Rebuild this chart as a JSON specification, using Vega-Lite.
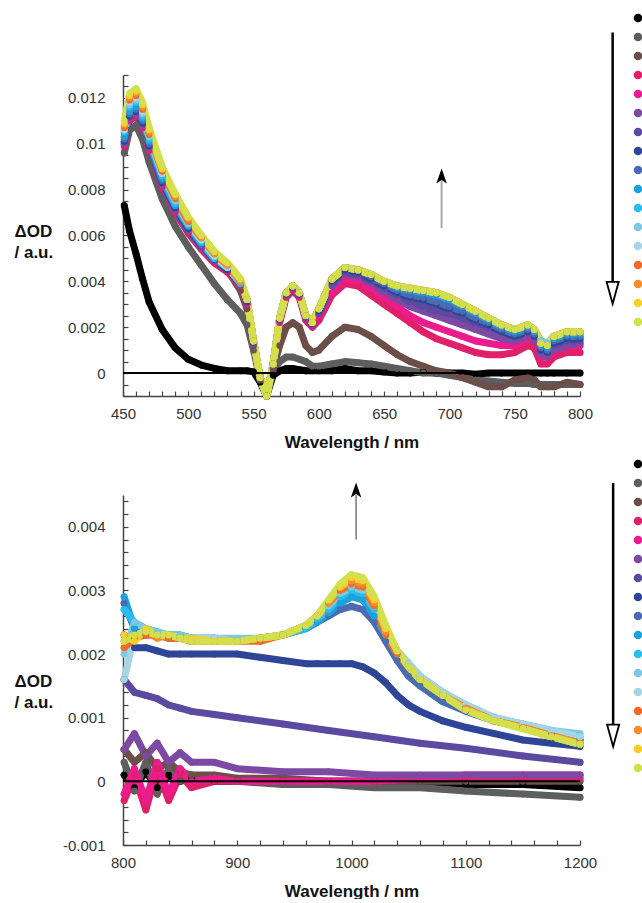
{
"$schema": "https://vega.github.io/schema/vega-lite/v6.json",
"padding": {"left": 14, "top": 13, "right": 0, "bottom": 0},
"background": "white",
"config": {
"view": {"stroke": null},
"font": "Liberation Sans",
"axis": {"grid": false, "domainColor": "#444", "domainWidth": 1.5, "tickColor": "#444", "tickWidth": 1.2, "tickSize": -5, "labelFont": "Liberation Sans", "labelFontSize": 15, "labelColor": "#333", "titleFont": "Liberation Sans", "titleFontSize": 17, "titleFontWeight": "bold", "titleColor": "#111", "labelFlush": false, "labelOverlap": false}
},
"datasets": {
"top": [
{"k":1,"x":451,"y":0.0073},{"k":1,"x":455,"y":0.0062},{"k":1,"x":460,"y":0.0052},{"k":1,"x":465,"y":0.0041},{"k":1,"x":470,"y":0.0031},{"k":1,"x":480,"y":0.0019},{"k":1,"x":490,"y":0.0011},{"k":1,"x":500,"y":0.0006},{"k":1,"x":510,"y":0.00035},{"k":1,"x":520,"y":0.0002},{"k":1,"x":530,"y":0.0001},{"k":1,"x":540,"y":0.0001},{"k":1,"x":545,"y":0.0001},{"k":1,"x":550,"y":0.00005},{"k":1,"x":555,"y":-0.0004},{"k":1,"x":560,"y":-0.001},{"k":1,"x":565,"y":-0.0001},{"k":1,"x":570,"y":0.0001},{"k":1,"x":575,"y":0.0002},{"k":1,"x":580,"y":0.0002},{"k":1,"x":585,"y":0.00015},{"k":1,"x":590,"y":0.0001},{"k":1,"x":595,"y":0.0001},{"k":1,"x":600,"y":0.0001},{"k":1,"x":610,"y":0.0001},{"k":1,"x":620,"y":0.0002},{"k":1,"x":630,"y":0.0001},{"k":1,"x":640,"y":0.0001},{"k":1,"x":650,"y":0.00005},{"k":1,"x":660,"y":0},{"k":1,"x":670,"y":0},{"k":1,"x":680,"y":0.00005},{"k":1,"x":690,"y":0},{"k":1,"x":700,"y":0},{"k":1,"x":710,"y":0},{"k":1,"x":720,"y":-0.00005},{"k":1,"x":730,"y":0},{"k":1,"x":740,"y":0},{"k":1,"x":750,"y":0},{"k":1,"x":760,"y":0},{"k":1,"x":765,"y":0},{"k":1,"x":770,"y":0},{"k":1,"x":775,"y":0},{"k":1,"x":780,"y":0},{"k":1,"x":790,"y":0},{"k":1,"x":800,"y":0},
{"k":2,"x":451,"y":0.0096},{"k":2,"x":455,"y":0.0106},{"k":2,"x":460,"y":0.0108},{"k":2,"x":465,"y":0.0102},{"k":2,"x":470,"y":0.0092},{"k":2,"x":480,"y":0.0076},{"k":2,"x":490,"y":0.0064},{"k":2,"x":500,"y":0.0055},{"k":2,"x":510,"y":0.0047},{"k":2,"x":520,"y":0.0039},{"k":2,"x":530,"y":0.0032},{"k":2,"x":540,"y":0.0026},{"k":2,"x":545,"y":0.0021},{"k":2,"x":550,"y":0.001},{"k":2,"x":555,"y":-0.0003},{"k":2,"x":560,"y":-0.001},{"k":2,"x":565,"y":0.0001},{"k":2,"x":570,"y":0.0005},{"k":2,"x":575,"y":0.0007},{"k":2,"x":580,"y":0.0007},{"k":2,"x":585,"y":0.0006},{"k":2,"x":590,"y":0.0005},{"k":2,"x":595,"y":0.0003},{"k":2,"x":600,"y":0.0003},{"k":2,"x":610,"y":0.0004},{"k":2,"x":620,"y":0.0005},{"k":2,"x":630,"y":0.00045},{"k":2,"x":640,"y":0.0004},{"k":2,"x":650,"y":0.0003},{"k":2,"x":660,"y":0.0002},{"k":2,"x":670,"y":0.0001},{"k":2,"x":680,"y":0},{"k":2,"x":690,"y":0},{"k":2,"x":700,"y":-0.0001},{"k":2,"x":710,"y":-0.0002},{"k":2,"x":720,"y":-0.0003},{"k":2,"x":730,"y":-0.00035},{"k":2,"x":740,"y":-0.0004},{"k":2,"x":750,"y":-0.00045},{"k":2,"x":760,"y":-0.00045},{"k":2,"x":765,"y":-0.0005},{"k":2,"x":770,"y":-0.0005},{"k":2,"x":775,"y":-0.0005},{"k":2,"x":780,"y":-0.0005},{"k":2,"x":790,"y":-0.0005},{"k":2,"x":800,"y":-0.0005},
{"k":3,"x":451,"y":0.0103},{"k":3,"x":455,"y":0.0111},{"k":3,"x":460,"y":0.0113},{"k":3,"x":465,"y":0.0108},{"k":3,"x":470,"y":0.0099},{"k":3,"x":480,"y":0.0086},{"k":3,"x":490,"y":0.0075},{"k":3,"x":500,"y":0.0065},{"k":3,"x":510,"y":0.0057},{"k":3,"x":520,"y":0.005},{"k":3,"x":530,"y":0.0045},{"k":3,"x":540,"y":0.0036},{"k":3,"x":545,"y":0.0028},{"k":3,"x":550,"y":0.0012},{"k":3,"x":555,"y":-0.0003},{"k":3,"x":560,"y":-0.001},{"k":3,"x":565,"y":0.0002},{"k":3,"x":570,"y":0.0012},{"k":3,"x":575,"y":0.002},{"k":3,"x":580,"y":0.0022},{"k":3,"x":585,"y":0.002},{"k":3,"x":590,"y":0.0012},{"k":3,"x":595,"y":0.0009},{"k":3,"x":600,"y":0.001},{"k":3,"x":610,"y":0.0016},{"k":3,"x":620,"y":0.002},{"k":3,"x":630,"y":0.0019},{"k":3,"x":640,"y":0.0016},{"k":3,"x":650,"y":0.0012},{"k":3,"x":660,"y":0.0008},{"k":3,"x":670,"y":0.0005},{"k":3,"x":680,"y":0.0003},{"k":3,"x":690,"y":0.0001},{"k":3,"x":700,"y":0},{"k":3,"x":710,"y":-0.0002},{"k":3,"x":720,"y":-0.0004},{"k":3,"x":730,"y":-0.0006},{"k":3,"x":740,"y":-0.0006},{"k":3,"x":750,"y":-0.0003},{"k":3,"x":760,"y":-0.0002},{"k":3,"x":765,"y":-0.0003},{"k":3,"x":770,"y":-0.0006},{"k":3,"x":775,"y":-0.0006},{"k":3,"x":780,"y":-0.0006},{"k":3,"x":790,"y":-0.0004},{"k":3,"x":800,"y":-0.0005},
{"k":4,"x":451,"y":0.0099},{"k":4,"x":455,"y":0.011},{"k":4,"x":460,"y":0.0112},{"k":4,"x":465,"y":0.0107},{"k":4,"x":470,"y":0.0097},{"k":4,"x":480,"y":0.0081},{"k":4,"x":490,"y":0.007},{"k":4,"x":500,"y":0.0061},{"k":4,"x":510,"y":0.0054},{"k":4,"x":520,"y":0.0048},{"k":4,"x":530,"y":0.0044},{"k":4,"x":540,"y":0.0038},{"k":4,"x":545,"y":0.003},{"k":4,"x":550,"y":0.0013},{"k":4,"x":555,"y":-0.0002},{"k":4,"x":560,"y":-0.001},{"k":4,"x":565,"y":0.0004},{"k":4,"x":570,"y":0.0022},{"k":4,"x":575,"y":0.0033},{"k":4,"x":580,"y":0.0036},{"k":4,"x":585,"y":0.0033},{"k":4,"x":590,"y":0.0023},{"k":4,"x":595,"y":0.002},{"k":4,"x":600,"y":0.0023},{"k":4,"x":610,"y":0.0034},{"k":4,"x":620,"y":0.0039},{"k":4,"x":630,"y":0.0038},{"k":4,"x":640,"y":0.0034},{"k":4,"x":650,"y":0.003},{"k":4,"x":660,"y":0.0026},{"k":4,"x":670,"y":0.0022},{"k":4,"x":680,"y":0.0018},{"k":4,"x":690,"y":0.0015},{"k":4,"x":700,"y":0.0013},{"k":4,"x":710,"y":0.0011},{"k":4,"x":720,"y":0.0009},{"k":4,"x":730,"y":0.0008},{"k":4,"x":740,"y":0.0008},{"k":4,"x":750,"y":0.0009},{"k":4,"x":760,"y":0.0012},{"k":4,"x":765,"y":0.0011},{"k":4,"x":770,"y":0.0004},{"k":4,"x":775,"y":0.0004},{"k":4,"x":780,"y":0.0007},{"k":4,"x":790,"y":0.0009},{"k":4,"x":800,"y":0.0009},
{"k":5,"x":451,"y":0.01},{"k":5,"x":455,"y":0.0111},{"k":5,"x":460,"y":0.0113},{"k":5,"x":465,"y":0.0108},{"k":5,"x":470,"y":0.0098},{"k":5,"x":480,"y":0.0082},{"k":5,"x":490,"y":0.0071},{"k":5,"x":500,"y":0.0062},{"k":5,"x":510,"y":0.0055},{"k":5,"x":520,"y":0.0049},{"k":5,"x":530,"y":0.0045},{"k":5,"x":540,"y":0.0039},{"k":5,"x":545,"y":0.003},{"k":5,"x":550,"y":0.0013},{"k":5,"x":555,"y":-0.0002},{"k":5,"x":560,"y":-0.001},{"k":5,"x":565,"y":0.0004},{"k":5,"x":570,"y":0.0023},{"k":5,"x":575,"y":0.0034},{"k":5,"x":580,"y":0.0037},{"k":5,"x":585,"y":0.0034},{"k":5,"x":590,"y":0.0024},{"k":5,"x":595,"y":0.0021},{"k":5,"x":600,"y":0.0025},{"k":5,"x":610,"y":0.0035},{"k":5,"x":620,"y":0.0041},{"k":5,"x":630,"y":0.004},{"k":5,"x":640,"y":0.0037},{"k":5,"x":650,"y":0.0033},{"k":5,"x":660,"y":0.0029},{"k":5,"x":670,"y":0.0025},{"k":5,"x":680,"y":0.0022},{"k":5,"x":690,"y":0.002},{"k":5,"x":700,"y":0.0018},{"k":5,"x":710,"y":0.0016},{"k":5,"x":720,"y":0.0014},{"k":5,"x":730,"y":0.0013},{"k":5,"x":740,"y":0.0012},{"k":5,"x":750,"y":0.0012},{"k":5,"x":760,"y":0.0015},{"k":5,"x":765,"y":0.0014},{"k":5,"x":770,"y":0.0007},{"k":5,"x":775,"y":0.0007},{"k":5,"x":780,"y":0.001},{"k":5,"x":790,"y":0.0012},{"k":5,"x":800,"y":0.0012},
{"k":6,"x":451,"y":0.01},{"k":6,"x":455,"y":0.0111},{"k":6,"x":460,"y":0.0113},{"k":6,"x":465,"y":0.0108},{"k":6,"x":470,"y":0.0098},{"k":6,"x":480,"y":0.0082},{"k":6,"x":490,"y":0.0071},{"k":6,"x":500,"y":0.0062},{"k":6,"x":510,"y":0.0055},{"k":6,"x":520,"y":0.0049},{"k":6,"x":530,"y":0.0045},{"k":6,"x":540,"y":0.0039},{"k":6,"x":545,"y":0.0031},{"k":6,"x":550,"y":0.0013},{"k":6,"x":555,"y":-0.0002},{"k":6,"x":560,"y":-0.001},{"k":6,"x":565,"y":0.0004},{"k":6,"x":570,"y":0.0023},{"k":6,"x":575,"y":0.0034},{"k":6,"x":580,"y":0.0037},{"k":6,"x":585,"y":0.0034},{"k":6,"x":590,"y":0.0024},{"k":6,"x":595,"y":0.0021},{"k":6,"x":600,"y":0.0026},{"k":6,"x":610,"y":0.0038},{"k":6,"x":620,"y":0.0043},{"k":6,"x":630,"y":0.0042},{"k":6,"x":640,"y":0.0039},{"k":6,"x":650,"y":0.0035},{"k":6,"x":660,"y":0.0032},{"k":6,"x":670,"y":0.0029},{"k":6,"x":680,"y":0.0027},{"k":6,"x":690,"y":0.0025},{"k":6,"x":700,"y":0.0023},{"k":6,"x":710,"y":0.0021},{"k":6,"x":720,"y":0.0019},{"k":6,"x":730,"y":0.0017},{"k":6,"x":740,"y":0.0015},{"k":6,"x":750,"y":0.0014},{"k":6,"x":760,"y":0.0016},{"k":6,"x":765,"y":0.0014},{"k":6,"x":770,"y":0.0008},{"k":6,"x":775,"y":0.0007},{"k":6,"x":780,"y":0.001},{"k":6,"x":790,"y":0.0012},{"k":6,"x":800,"y":0.0013},
{"k":7,"x":451,"y":0.0101},{"k":7,"x":455,"y":0.0112},{"k":7,"x":460,"y":0.0114},{"k":7,"x":465,"y":0.0109},{"k":7,"x":470,"y":0.0099},{"k":7,"x":480,"y":0.0083},{"k":7,"x":490,"y":0.0072},{"k":7,"x":500,"y":0.0063},{"k":7,"x":510,"y":0.0055},{"k":7,"x":520,"y":0.0049},{"k":7,"x":530,"y":0.0045},{"k":7,"x":540,"y":0.0039},{"k":7,"x":545,"y":0.0031},{"k":7,"x":550,"y":0.0013},{"k":7,"x":555,"y":-0.0002},{"k":7,"x":560,"y":-0.001},{"k":7,"x":565,"y":0.0004},{"k":7,"x":570,"y":0.0023},{"k":7,"x":575,"y":0.0034},{"k":7,"x":580,"y":0.0037},{"k":7,"x":585,"y":0.0034},{"k":7,"x":590,"y":0.0024},{"k":7,"x":595,"y":0.0021},{"k":7,"x":600,"y":0.0026},{"k":7,"x":610,"y":0.0039},{"k":7,"x":620,"y":0.0044},{"k":7,"x":630,"y":0.0043},{"k":7,"x":640,"y":0.004},{"k":7,"x":650,"y":0.0037},{"k":7,"x":660,"y":0.0034},{"k":7,"x":670,"y":0.0031},{"k":7,"x":680,"y":0.0029},{"k":7,"x":690,"y":0.0027},{"k":7,"x":700,"y":0.0026},{"k":7,"x":710,"y":0.0024},{"k":7,"x":720,"y":0.0022},{"k":7,"x":730,"y":0.002},{"k":7,"x":740,"y":0.0018},{"k":7,"x":750,"y":0.0016},{"k":7,"x":760,"y":0.0018},{"k":7,"x":765,"y":0.0016},{"k":7,"x":770,"y":0.001},{"k":7,"x":775,"y":0.0009},{"k":7,"x":780,"y":0.0012},{"k":7,"x":790,"y":0.0014},{"k":7,"x":800,"y":0.0014},
{"k":8,"x":451,"y":0.0101},{"k":8,"x":455,"y":0.0112},{"k":8,"x":460,"y":0.0114},{"k":8,"x":465,"y":0.0109},{"k":8,"x":470,"y":0.0099},{"k":8,"x":480,"y":0.0083},{"k":8,"x":490,"y":0.0072},{"k":8,"x":500,"y":0.0063},{"k":8,"x":510,"y":0.0056},{"k":8,"x":520,"y":0.005},{"k":8,"x":530,"y":0.0045},{"k":8,"x":540,"y":0.0039},{"k":8,"x":545,"y":0.0031},{"k":8,"x":550,"y":0.0014},{"k":8,"x":555,"y":-0.0002},{"k":8,"x":560,"y":-0.001},{"k":8,"x":565,"y":0.0004},{"k":8,"x":570,"y":0.0024},{"k":8,"x":575,"y":0.0035},{"k":8,"x":580,"y":0.0038},{"k":8,"x":585,"y":0.0035},{"k":8,"x":590,"y":0.0025},{"k":8,"x":595,"y":0.0022},{"k":8,"x":600,"y":0.0027},{"k":8,"x":610,"y":0.004},{"k":8,"x":620,"y":0.0045},{"k":8,"x":630,"y":0.0044},{"k":8,"x":640,"y":0.0041},{"k":8,"x":650,"y":0.0038},{"k":8,"x":660,"y":0.0035},{"k":8,"x":670,"y":0.0033},{"k":8,"x":680,"y":0.0032},{"k":8,"x":690,"y":0.003},{"k":8,"x":700,"y":0.0028},{"k":8,"x":710,"y":0.0026},{"k":8,"x":720,"y":0.0023},{"k":8,"x":730,"y":0.0021},{"k":8,"x":740,"y":0.0018},{"k":8,"x":750,"y":0.0016},{"k":8,"x":760,"y":0.0018},{"k":8,"x":765,"y":0.0016},{"k":8,"x":770,"y":0.001},{"k":8,"x":775,"y":0.0009},{"k":8,"x":780,"y":0.0013},{"k":8,"x":790,"y":0.0015},{"k":8,"x":800,"y":0.0015},
{"k":9,"x":451,"y":0.0102},{"k":9,"x":455,"y":0.0113},{"k":9,"x":460,"y":0.0115},{"k":9,"x":465,"y":0.011},{"k":9,"x":470,"y":0.01},{"k":9,"x":480,"y":0.0084},{"k":9,"x":490,"y":0.0073},{"k":9,"x":500,"y":0.0064},{"k":9,"x":510,"y":0.0056},{"k":9,"x":520,"y":0.005},{"k":9,"x":530,"y":0.0046},{"k":9,"x":540,"y":0.0039},{"k":9,"x":545,"y":0.0032},{"k":9,"x":550,"y":0.0014},{"k":9,"x":555,"y":-0.0002},{"k":9,"x":560,"y":-0.001},{"k":9,"x":565,"y":0.0004},{"k":9,"x":570,"y":0.0024},{"k":9,"x":575,"y":0.0035},{"k":9,"x":580,"y":0.0038},{"k":9,"x":585,"y":0.0035},{"k":9,"x":590,"y":0.0025},{"k":9,"x":595,"y":0.0022},{"k":9,"x":600,"y":0.0028},{"k":9,"x":610,"y":0.0041},{"k":9,"x":620,"y":0.0046},{"k":9,"x":630,"y":0.0045},{"k":9,"x":640,"y":0.0042},{"k":9,"x":650,"y":0.0039},{"k":9,"x":660,"y":0.0036},{"k":9,"x":670,"y":0.0034},{"k":9,"x":680,"y":0.0033},{"k":9,"x":690,"y":0.0031},{"k":9,"x":700,"y":0.0029},{"k":9,"x":710,"y":0.0027},{"k":9,"x":720,"y":0.0024},{"k":9,"x":730,"y":0.0022},{"k":9,"x":740,"y":0.0019},{"k":9,"x":750,"y":0.0017},{"k":9,"x":760,"y":0.0019},{"k":9,"x":765,"y":0.0017},{"k":9,"x":770,"y":0.0011},{"k":9,"x":775,"y":0.001},{"k":9,"x":780,"y":0.0014},{"k":9,"x":790,"y":0.0016},{"k":9,"x":800,"y":0.0016},
{"k":10,"x":451,"y":0.0103},{"k":10,"x":455,"y":0.0114},{"k":10,"x":460,"y":0.0116},{"k":10,"x":465,"y":0.0111},{"k":10,"x":470,"y":0.0101},{"k":10,"x":480,"y":0.0085},{"k":10,"x":490,"y":0.0073},{"k":10,"x":500,"y":0.0064},{"k":10,"x":510,"y":0.0057},{"k":10,"x":520,"y":0.005},{"k":10,"x":530,"y":0.0046},{"k":10,"x":540,"y":0.0039},{"k":10,"x":545,"y":0.0032},{"k":10,"x":550,"y":0.0014},{"k":10,"x":555,"y":-0.0002},{"k":10,"x":560,"y":-0.001},{"k":10,"x":565,"y":0.0004},{"k":10,"x":570,"y":0.0024},{"k":10,"x":575,"y":0.0035},{"k":10,"x":580,"y":0.0038},{"k":10,"x":585,"y":0.0035},{"k":10,"x":590,"y":0.0025},{"k":10,"x":595,"y":0.0022},{"k":10,"x":600,"y":0.0028},{"k":10,"x":610,"y":0.0041},{"k":10,"x":620,"y":0.0046},{"k":10,"x":630,"y":0.0045},{"k":10,"x":640,"y":0.0043},{"k":10,"x":650,"y":0.004},{"k":10,"x":660,"y":0.0037},{"k":10,"x":670,"y":0.0036},{"k":10,"x":680,"y":0.0035},{"k":10,"x":690,"y":0.0034},{"k":10,"x":700,"y":0.0032},{"k":10,"x":710,"y":0.0029},{"k":10,"x":720,"y":0.0026},{"k":10,"x":730,"y":0.0023},{"k":10,"x":740,"y":0.002},{"k":10,"x":750,"y":0.0018},{"k":10,"x":760,"y":0.002},{"k":10,"x":765,"y":0.0018},{"k":10,"x":770,"y":0.0012},{"k":10,"x":775,"y":0.0011},{"k":10,"x":780,"y":0.0015},{"k":10,"x":790,"y":0.0017},{"k":10,"x":800,"y":0.0017},
{"k":11,"x":451,"y":0.0105},{"k":11,"x":455,"y":0.0116},{"k":11,"x":460,"y":0.0118},{"k":11,"x":465,"y":0.0112},{"k":11,"x":470,"y":0.0102},{"k":11,"x":480,"y":0.0086},{"k":11,"x":490,"y":0.0074},{"k":11,"x":500,"y":0.0065},{"k":11,"x":510,"y":0.0057},{"k":11,"x":520,"y":0.005},{"k":11,"x":530,"y":0.0046},{"k":11,"x":540,"y":0.0039},{"k":11,"x":545,"y":0.0032},{"k":11,"x":550,"y":0.0014},{"k":11,"x":555,"y":-0.0002},{"k":11,"x":560,"y":-0.001},{"k":11,"x":565,"y":0.0004},{"k":11,"x":570,"y":0.0024},{"k":11,"x":575,"y":0.0035},{"k":11,"x":580,"y":0.0038},{"k":11,"x":585,"y":0.0035},{"k":11,"x":590,"y":0.0025},{"k":11,"x":595,"y":0.0022},{"k":11,"x":600,"y":0.0028},{"k":11,"x":610,"y":0.0041},{"k":11,"x":620,"y":0.0046},{"k":11,"x":630,"y":0.0045},{"k":11,"x":640,"y":0.0043},{"k":11,"x":650,"y":0.004},{"k":11,"x":660,"y":0.0038},{"k":11,"x":670,"y":0.0037},{"k":11,"x":680,"y":0.0036},{"k":11,"x":690,"y":0.0035},{"k":11,"x":700,"y":0.0033},{"k":11,"x":710,"y":0.003},{"k":11,"x":720,"y":0.0027},{"k":11,"x":730,"y":0.0024},{"k":11,"x":740,"y":0.0021},{"k":11,"x":750,"y":0.0019},{"k":11,"x":760,"y":0.0021},{"k":11,"x":765,"y":0.0019},{"k":11,"x":770,"y":0.0014},{"k":11,"x":775,"y":0.0013},{"k":11,"x":780,"y":0.0016},{"k":11,"x":790,"y":0.0018},{"k":11,"x":800,"y":0.0018},
{"k":12,"x":451,"y":0.0106},{"k":12,"x":455,"y":0.0117},{"k":12,"x":460,"y":0.0119},{"k":12,"x":465,"y":0.0113},{"k":12,"x":470,"y":0.0103},{"k":12,"x":480,"y":0.0087},{"k":12,"x":490,"y":0.0075},{"k":12,"x":500,"y":0.0065},{"k":12,"x":510,"y":0.0058},{"k":12,"x":520,"y":0.0051},{"k":12,"x":530,"y":0.0046},{"k":12,"x":540,"y":0.004},{"k":12,"x":545,"y":0.0032},{"k":12,"x":550,"y":0.0014},{"k":12,"x":555,"y":-0.0002},{"k":12,"x":560,"y":-0.001},{"k":12,"x":565,"y":0.0004},{"k":12,"x":570,"y":0.0024},{"k":12,"x":575,"y":0.0035},{"k":12,"x":580,"y":0.0038},{"k":12,"x":585,"y":0.0035},{"k":12,"x":590,"y":0.0025},{"k":12,"x":595,"y":0.0022},{"k":12,"x":600,"y":0.0028},{"k":12,"x":610,"y":0.0041},{"k":12,"x":620,"y":0.0046},{"k":12,"x":630,"y":0.0045},{"k":12,"x":640,"y":0.0043},{"k":12,"x":650,"y":0.004},{"k":12,"x":660,"y":0.0038},{"k":12,"x":670,"y":0.0037},{"k":12,"x":680,"y":0.0036},{"k":12,"x":690,"y":0.0035},{"k":12,"x":700,"y":0.0033},{"k":12,"x":710,"y":0.003},{"k":12,"x":720,"y":0.0027},{"k":12,"x":730,"y":0.0024},{"k":12,"x":740,"y":0.0021},{"k":12,"x":750,"y":0.0019},{"k":12,"x":760,"y":0.0021},{"k":12,"x":765,"y":0.0019},{"k":12,"x":770,"y":0.0014},{"k":12,"x":775,"y":0.0013},{"k":12,"x":780,"y":0.0016},{"k":12,"x":790,"y":0.0018},{"k":12,"x":800,"y":0.0018},
{"k":13,"x":451,"y":0.0106},{"k":13,"x":455,"y":0.0118},{"k":13,"x":460,"y":0.012},{"k":13,"x":465,"y":0.0114},{"k":13,"x":470,"y":0.0104},{"k":13,"x":480,"y":0.0087},{"k":13,"x":490,"y":0.0076},{"k":13,"x":500,"y":0.0066},{"k":13,"x":510,"y":0.0058},{"k":13,"x":520,"y":0.0051},{"k":13,"x":530,"y":0.0046},{"k":13,"x":540,"y":0.004},{"k":13,"x":545,"y":0.0032},{"k":13,"x":550,"y":0.0014},{"k":13,"x":555,"y":-0.0002},{"k":13,"x":560,"y":-0.001},{"k":13,"x":565,"y":0.0004},{"k":13,"x":570,"y":0.0024},{"k":13,"x":575,"y":0.0035},{"k":13,"x":580,"y":0.0038},{"k":13,"x":585,"y":0.0035},{"k":13,"x":590,"y":0.0025},{"k":13,"x":595,"y":0.0022},{"k":13,"x":600,"y":0.0028},{"k":13,"x":610,"y":0.0041},{"k":13,"x":620,"y":0.0046},{"k":13,"x":630,"y":0.0045},{"k":13,"x":640,"y":0.0043},{"k":13,"x":650,"y":0.004},{"k":13,"x":660,"y":0.0038},{"k":13,"x":670,"y":0.0037},{"k":13,"x":680,"y":0.0036},{"k":13,"x":690,"y":0.0035},{"k":13,"x":700,"y":0.0033},{"k":13,"x":710,"y":0.003},{"k":13,"x":720,"y":0.0027},{"k":13,"x":730,"y":0.0024},{"k":13,"x":740,"y":0.0021},{"k":13,"x":750,"y":0.0019},{"k":13,"x":760,"y":0.0021},{"k":13,"x":765,"y":0.0019},{"k":13,"x":770,"y":0.0013},{"k":13,"x":775,"y":0.0012},{"k":13,"x":780,"y":0.0016},{"k":13,"x":790,"y":0.0018},{"k":13,"x":800,"y":0.0018},
{"k":14,"x":451,"y":0.0107},{"k":14,"x":455,"y":0.0119},{"k":14,"x":460,"y":0.0121},{"k":14,"x":465,"y":0.0115},{"k":14,"x":470,"y":0.0104},{"k":14,"x":480,"y":0.0088},{"k":14,"x":490,"y":0.0076},{"k":14,"x":500,"y":0.0066},{"k":14,"x":510,"y":0.0059},{"k":14,"x":520,"y":0.0052},{"k":14,"x":530,"y":0.0047},{"k":14,"x":540,"y":0.004},{"k":14,"x":545,"y":0.0032},{"k":14,"x":550,"y":0.0014},{"k":14,"x":555,"y":-0.0002},{"k":14,"x":560,"y":-0.001},{"k":14,"x":565,"y":0.0004},{"k":14,"x":570,"y":0.0024},{"k":14,"x":575,"y":0.0035},{"k":14,"x":580,"y":0.0038},{"k":14,"x":585,"y":0.0035},{"k":14,"x":590,"y":0.0025},{"k":14,"x":595,"y":0.0022},{"k":14,"x":600,"y":0.0028},{"k":14,"x":610,"y":0.0041},{"k":14,"x":620,"y":0.0046},{"k":14,"x":630,"y":0.0045},{"k":14,"x":640,"y":0.0043},{"k":14,"x":650,"y":0.004},{"k":14,"x":660,"y":0.0038},{"k":14,"x":670,"y":0.0037},{"k":14,"x":680,"y":0.0036},{"k":14,"x":690,"y":0.0035},{"k":14,"x":700,"y":0.0033},{"k":14,"x":710,"y":0.003},{"k":14,"x":720,"y":0.0027},{"k":14,"x":730,"y":0.0024},{"k":14,"x":740,"y":0.0021},{"k":14,"x":750,"y":0.0019},{"k":14,"x":760,"y":0.0021},{"k":14,"x":765,"y":0.0019},{"k":14,"x":770,"y":0.0013},{"k":14,"x":775,"y":0.0012},{"k":14,"x":780,"y":0.0016},{"k":14,"x":790,"y":0.0018},{"k":14,"x":800,"y":0.0018},
{"k":15,"x":451,"y":0.0108},{"k":15,"x":455,"y":0.012},{"k":15,"x":460,"y":0.0122},{"k":15,"x":465,"y":0.0116},{"k":15,"x":470,"y":0.0105},{"k":15,"x":480,"y":0.0089},{"k":15,"x":490,"y":0.0077},{"k":15,"x":500,"y":0.0067},{"k":15,"x":510,"y":0.0059},{"k":15,"x":520,"y":0.0052},{"k":15,"x":530,"y":0.0047},{"k":15,"x":540,"y":0.004},{"k":15,"x":545,"y":0.0032},{"k":15,"x":550,"y":0.0014},{"k":15,"x":555,"y":-0.0002},{"k":15,"x":560,"y":-0.001},{"k":15,"x":565,"y":0.0004},{"k":15,"x":570,"y":0.0024},{"k":15,"x":575,"y":0.0035},{"k":15,"x":580,"y":0.0038},{"k":15,"x":585,"y":0.0035},{"k":15,"x":590,"y":0.0025},{"k":15,"x":595,"y":0.0022},{"k":15,"x":600,"y":0.0028},{"k":15,"x":610,"y":0.0041},{"k":15,"x":620,"y":0.0046},{"k":15,"x":630,"y":0.0045},{"k":15,"x":640,"y":0.0043},{"k":15,"x":650,"y":0.004},{"k":15,"x":660,"y":0.0038},{"k":15,"x":670,"y":0.0037},{"k":15,"x":680,"y":0.0036},{"k":15,"x":690,"y":0.0035},{"k":15,"x":700,"y":0.0033},{"k":15,"x":710,"y":0.003},{"k":15,"x":720,"y":0.0027},{"k":15,"x":730,"y":0.0024},{"k":15,"x":740,"y":0.0021},{"k":15,"x":750,"y":0.0019},{"k":15,"x":760,"y":0.0021},{"k":15,"x":765,"y":0.0019},{"k":15,"x":770,"y":0.0013},{"k":15,"x":775,"y":0.0012},{"k":15,"x":780,"y":0.0016},{"k":15,"x":790,"y":0.0018},{"k":15,"x":800,"y":0.0018},
{"k":16,"x":451,"y":0.0109},{"k":16,"x":455,"y":0.0121},{"k":16,"x":460,"y":0.0123},{"k":16,"x":465,"y":0.0117},{"k":16,"x":470,"y":0.0106},{"k":16,"x":480,"y":0.0089},{"k":16,"x":490,"y":0.0078},{"k":16,"x":500,"y":0.0068},{"k":16,"x":510,"y":0.006},{"k":16,"x":520,"y":0.0053},{"k":16,"x":530,"y":0.0048},{"k":16,"x":540,"y":0.0041},{"k":16,"x":545,"y":0.0032},{"k":16,"x":550,"y":0.0014},{"k":16,"x":555,"y":-0.0002},{"k":16,"x":560,"y":-0.001},{"k":16,"x":565,"y":0.0004},{"k":16,"x":570,"y":0.0024},{"k":16,"x":575,"y":0.0035},{"k":16,"x":580,"y":0.0038},{"k":16,"x":585,"y":0.0035},{"k":16,"x":590,"y":0.0025},{"k":16,"x":595,"y":0.0022},{"k":16,"x":600,"y":0.0028},{"k":16,"x":610,"y":0.0041},{"k":16,"x":620,"y":0.0046},{"k":16,"x":630,"y":0.0045},{"k":16,"x":640,"y":0.0043},{"k":16,"x":650,"y":0.004},{"k":16,"x":660,"y":0.0038},{"k":16,"x":670,"y":0.0037},{"k":16,"x":680,"y":0.0036},{"k":16,"x":690,"y":0.0035},{"k":16,"x":700,"y":0.0033},{"k":16,"x":710,"y":0.003},{"k":16,"x":720,"y":0.0027},{"k":16,"x":730,"y":0.0024},{"k":16,"x":740,"y":0.0021},{"k":16,"x":750,"y":0.0019},{"k":16,"x":760,"y":0.0021},{"k":16,"x":765,"y":0.0019},{"k":16,"x":770,"y":0.0013},{"k":16,"x":775,"y":0.0012},{"k":16,"x":780,"y":0.0016},{"k":16,"x":790,"y":0.0018},{"k":16,"x":800,"y":0.0018},
{"k":17,"x":451,"y":0.011},{"k":17,"x":455,"y":0.0122},{"k":17,"x":460,"y":0.0124},{"k":17,"x":465,"y":0.0118},{"k":17,"x":470,"y":0.0107},{"k":17,"x":480,"y":0.009},{"k":17,"x":490,"y":0.0078},{"k":17,"x":500,"y":0.0068},{"k":17,"x":510,"y":0.006},{"k":17,"x":520,"y":0.0053},{"k":17,"x":530,"y":0.0048},{"k":17,"x":540,"y":0.0041},{"k":17,"x":545,"y":0.0032},{"k":17,"x":550,"y":0.0014},{"k":17,"x":555,"y":-0.0002},{"k":17,"x":560,"y":-0.001},{"k":17,"x":565,"y":0.0004},{"k":17,"x":570,"y":0.0024},{"k":17,"x":575,"y":0.0035},{"k":17,"x":580,"y":0.0038},{"k":17,"x":585,"y":0.0035},{"k":17,"x":590,"y":0.0025},{"k":17,"x":595,"y":0.0022},{"k":17,"x":600,"y":0.0028},{"k":17,"x":610,"y":0.0041},{"k":17,"x":620,"y":0.0046},{"k":17,"x":630,"y":0.0045},{"k":17,"x":640,"y":0.0043},{"k":17,"x":650,"y":0.004},{"k":17,"x":660,"y":0.0038},{"k":17,"x":670,"y":0.0037},{"k":17,"x":680,"y":0.0036},{"k":17,"x":690,"y":0.0035},{"k":17,"x":700,"y":0.0033},{"k":17,"x":710,"y":0.003},{"k":17,"x":720,"y":0.0027},{"k":17,"x":730,"y":0.0024},{"k":17,"x":740,"y":0.0021},{"k":17,"x":750,"y":0.0019},{"k":17,"x":760,"y":0.0021},{"k":17,"x":765,"y":0.0019},{"k":17,"x":770,"y":0.0013},{"k":17,"x":775,"y":0.0012},{"k":17,"x":780,"y":0.0016},{"k":17,"x":790,"y":0.0018},{"k":17,"x":800,"y":0.0018}
],
"bot": [
{"k":1,"x":801,"y":0.0001},{"k":1,"x":810,"y":-0.0001},{"k":1,"x":820,"y":0.00015},{"k":1,"x":830,"y":-0.0001},{"k":1,"x":840,"y":0.0001},{"k":1,"x":850,"y":0},{"k":1,"x":860,"y":0.00005},{"k":1,"x":880,"y":0},{"k":1,"x":900,"y":0},{"k":1,"x":940,"y":0},{"k":1,"x":980,"y":0},{"k":1,"x":1020,"y":0},{"k":1,"x":1060,"y":0},{"k":1,"x":1100,"y":-0.00005},{"k":1,"x":1150,"y":-0.00005},{"k":1,"x":1200,"y":-0.0001},
{"k":2,"x":801,"y":0.0003},{"k":2,"x":810,"y":-0.00015},{"k":2,"x":820,"y":0.0003},{"k":2,"x":830,"y":-0.0002},{"k":2,"x":840,"y":0.0002},{"k":2,"x":850,"y":0},{"k":2,"x":860,"y":0.0001},{"k":2,"x":880,"y":0.00005},{"k":2,"x":900,"y":0},{"k":2,"x":940,"y":-0.00005},{"k":2,"x":980,"y":-0.00005},{"k":2,"x":1020,"y":-0.0001},{"k":2,"x":1060,"y":-0.0001},{"k":2,"x":1100,"y":-0.00015},{"k":2,"x":1150,"y":-0.0002},{"k":2,"x":1200,"y":-0.00025},
{"k":3,"x":801,"y":0.0005},{"k":3,"x":810,"y":0.0003},{"k":3,"x":820,"y":0.00045},{"k":3,"x":830,"y":0.0002},{"k":3,"x":840,"y":0.0003},{"k":3,"x":850,"y":0.00015},{"k":3,"x":860,"y":0.0001},{"k":3,"x":880,"y":0.0001},{"k":3,"x":900,"y":0.00005},{"k":3,"x":940,"y":0.00005},{"k":3,"x":980,"y":0},{"k":3,"x":1020,"y":0},{"k":3,"x":1060,"y":0},{"k":3,"x":1100,"y":0},{"k":3,"x":1150,"y":0},{"k":3,"x":1200,"y":0},
{"k":4,"x":801,"y":-0.0003},{"k":4,"x":810,"y":0.0001},{"k":4,"x":820,"y":-0.00045},{"k":4,"x":830,"y":0.0002},{"k":4,"x":840,"y":-0.0003},{"k":4,"x":850,"y":0.0001},{"k":4,"x":860,"y":-0.0001},{"k":4,"x":880,"y":0},{"k":4,"x":900,"y":0},{"k":4,"x":940,"y":0},{"k":4,"x":980,"y":0},{"k":4,"x":1020,"y":0},{"k":4,"x":1060,"y":0.00005},{"k":4,"x":1100,"y":0.00005},{"k":4,"x":1150,"y":0.00005},{"k":4,"x":1200,"y":0.00005},
{"k":5,"x":801,"y":-0.0002},{"k":5,"x":810,"y":0.0002},{"k":5,"x":820,"y":-0.0003},{"k":5,"x":830,"y":0.0003},{"k":5,"x":840,"y":-0.0002},{"k":5,"x":850,"y":0.0002},{"k":5,"x":860,"y":0},{"k":5,"x":880,"y":0.00005},{"k":5,"x":900,"y":0},{"k":5,"x":940,"y":0},{"k":5,"x":980,"y":0},{"k":5,"x":1020,"y":0},{"k":5,"x":1060,"y":0.00005},{"k":5,"x":1100,"y":0.0001},{"k":5,"x":1150,"y":0.0001},{"k":5,"x":1200,"y":0.0001},
{"k":6,"x":801,"y":0.0005},{"k":6,"x":810,"y":0.00075},{"k":6,"x":820,"y":0.0004},{"k":6,"x":830,"y":0.0006},{"k":6,"x":840,"y":0.0003},{"k":6,"x":850,"y":0.00045},{"k":6,"x":860,"y":0.0003},{"k":6,"x":880,"y":0.0003},{"k":6,"x":900,"y":0.0002},{"k":6,"x":940,"y":0.00015},{"k":6,"x":980,"y":0.00015},{"k":6,"x":1020,"y":0.0001},{"k":6,"x":1060,"y":0.0001},{"k":6,"x":1100,"y":0.0001},{"k":6,"x":1150,"y":0.0001},{"k":6,"x":1200,"y":0.0001},
{"k":7,"x":801,"y":0.0016},{"k":7,"x":810,"y":0.0014},{"k":7,"x":820,"y":0.00135},{"k":7,"x":830,"y":0.0013},{"k":7,"x":840,"y":0.0012},{"k":7,"x":850,"y":0.00115},{"k":7,"x":860,"y":0.0011},{"k":7,"x":880,"y":0.00105},{"k":7,"x":900,"y":0.001},{"k":7,"x":940,"y":0.0009},{"k":7,"x":980,"y":0.0008},{"k":7,"x":1020,"y":0.0007},{"k":7,"x":1060,"y":0.0006},{"k":7,"x":1100,"y":0.00052},{"k":7,"x":1150,"y":0.0004},{"k":7,"x":1200,"y":0.0003},
{"k":8,"x":801,"y":0.0023},{"k":8,"x":810,"y":0.0021},{"k":8,"x":820,"y":0.0021},{"k":8,"x":830,"y":0.00205},{"k":8,"x":840,"y":0.002},{"k":8,"x":850,"y":0.002},{"k":8,"x":860,"y":0.002},{"k":8,"x":880,"y":0.002},{"k":8,"x":900,"y":0.002},{"k":8,"x":920,"y":0.00195},{"k":8,"x":940,"y":0.0019},{"k":8,"x":960,"y":0.00185},{"k":8,"x":970,"y":0.00185},{"k":8,"x":980,"y":0.00185},{"k":8,"x":990,"y":0.00185},{"k":8,"x":1000,"y":0.00185},{"k":8,"x":1010,"y":0.0018},{"k":8,"x":1020,"y":0.0017},{"k":8,"x":1030,"y":0.00155},{"k":8,"x":1040,"y":0.00135},{"k":8,"x":1050,"y":0.0012},{"k":8,"x":1060,"y":0.0011},{"k":8,"x":1080,"y":0.00095},{"k":8,"x":1100,"y":0.00085},{"k":8,"x":1125,"y":0.00075},{"k":8,"x":1150,"y":0.00065},{"k":8,"x":1175,"y":0.0006},{"k":8,"x":1200,"y":0.00055},
{"k":9,"x":801,"y":0.0028},{"k":9,"x":810,"y":0.0024},{"k":9,"x":820,"y":0.0023},{"k":9,"x":830,"y":0.0023},{"k":9,"x":840,"y":0.00225},{"k":9,"x":850,"y":0.00225},{"k":9,"x":860,"y":0.00225},{"k":9,"x":880,"y":0.00225},{"k":9,"x":900,"y":0.0022},{"k":9,"x":920,"y":0.00225},{"k":9,"x":940,"y":0.0023},{"k":9,"x":960,"y":0.0024},{"k":9,"x":970,"y":0.0025},{"k":9,"x":980,"y":0.0026},{"k":9,"x":990,"y":0.0027},{"k":9,"x":1000,"y":0.00275},{"k":9,"x":1010,"y":0.0027},{"k":9,"x":1020,"y":0.0025},{"k":9,"x":1030,"y":0.0022},{"k":9,"x":1040,"y":0.0019},{"k":9,"x":1050,"y":0.00165},{"k":9,"x":1060,"y":0.0015},{"k":9,"x":1080,"y":0.00125},{"k":9,"x":1100,"y":0.0011},{"k":9,"x":1125,"y":0.00095},{"k":9,"x":1150,"y":0.00085},{"k":9,"x":1175,"y":0.00075},{"k":9,"x":1200,"y":0.00065},
{"k":10,"x":801,"y":0.0029},{"k":10,"x":810,"y":0.0024},{"k":10,"x":820,"y":0.00235},{"k":10,"x":830,"y":0.0023},{"k":10,"x":840,"y":0.0023},{"k":10,"x":850,"y":0.0023},{"k":10,"x":860,"y":0.00225},{"k":10,"x":880,"y":0.0022},{"k":10,"x":900,"y":0.0022},{"k":10,"x":920,"y":0.00225},{"k":10,"x":940,"y":0.0023},{"k":10,"x":960,"y":0.0024},{"k":10,"x":970,"y":0.0025},{"k":10,"x":980,"y":0.00265},{"k":10,"x":990,"y":0.0028},{"k":10,"x":1000,"y":0.0029},{"k":10,"x":1010,"y":0.00285},{"k":10,"x":1020,"y":0.0026},{"k":10,"x":1030,"y":0.0023},{"k":10,"x":1040,"y":0.002},{"k":10,"x":1050,"y":0.0018},{"k":10,"x":1060,"y":0.0016},{"k":10,"x":1080,"y":0.00135},{"k":10,"x":1100,"y":0.00115},{"k":10,"x":1125,"y":0.00095},{"k":10,"x":1150,"y":0.00085},{"k":10,"x":1175,"y":0.00075},{"k":10,"x":1200,"y":0.00065},
{"k":11,"x":801,"y":0.0027},{"k":11,"x":810,"y":0.0025},{"k":11,"x":820,"y":0.0024},{"k":11,"x":830,"y":0.00235},{"k":11,"x":840,"y":0.0023},{"k":11,"x":850,"y":0.0023},{"k":11,"x":860,"y":0.00225},{"k":11,"x":880,"y":0.00225},{"k":11,"x":900,"y":0.0022},{"k":11,"x":920,"y":0.00225},{"k":11,"x":940,"y":0.0023},{"k":11,"x":960,"y":0.0024},{"k":11,"x":970,"y":0.00255},{"k":11,"x":980,"y":0.0027},{"k":11,"x":990,"y":0.0029},{"k":11,"x":1000,"y":0.003},{"k":11,"x":1010,"y":0.00295},{"k":11,"x":1020,"y":0.0027},{"k":11,"x":1030,"y":0.00235},{"k":11,"x":1040,"y":0.00205},{"k":11,"x":1050,"y":0.00185},{"k":11,"x":1060,"y":0.00165},{"k":11,"x":1080,"y":0.0014},{"k":11,"x":1100,"y":0.0012},{"k":11,"x":1125,"y":0.001},{"k":11,"x":1150,"y":0.0009},{"k":11,"x":1175,"y":0.0008},{"k":11,"x":1200,"y":0.0007},
{"k":12,"x":801,"y":0.002},{"k":12,"x":810,"y":0.0025},{"k":12,"x":820,"y":0.0024},{"k":12,"x":830,"y":0.00235},{"k":12,"x":840,"y":0.0023},{"k":12,"x":850,"y":0.0023},{"k":12,"x":860,"y":0.00225},{"k":12,"x":880,"y":0.00225},{"k":12,"x":900,"y":0.00225},{"k":12,"x":920,"y":0.00225},{"k":12,"x":940,"y":0.0023},{"k":12,"x":960,"y":0.00245},{"k":12,"x":970,"y":0.0026},{"k":12,"x":980,"y":0.00275},{"k":12,"x":990,"y":0.00295},{"k":12,"x":1000,"y":0.00305},{"k":12,"x":1010,"y":0.003},{"k":12,"x":1020,"y":0.00275},{"k":12,"x":1030,"y":0.00235},{"k":12,"x":1040,"y":0.00205},{"k":12,"x":1050,"y":0.00185},{"k":12,"x":1060,"y":0.00165},{"k":12,"x":1080,"y":0.0014},{"k":12,"x":1100,"y":0.0012},{"k":12,"x":1125,"y":0.001},{"k":12,"x":1150,"y":0.0009},{"k":12,"x":1175,"y":0.0008},{"k":12,"x":1200,"y":0.00075},
{"k":13,"x":801,"y":0.0016},{"k":13,"x":810,"y":0.0023},{"k":13,"x":820,"y":0.00235},{"k":13,"x":830,"y":0.0023},{"k":13,"x":840,"y":0.0023},{"k":13,"x":850,"y":0.00225},{"k":13,"x":860,"y":0.00225},{"k":13,"x":880,"y":0.00225},{"k":13,"x":900,"y":0.0022},{"k":13,"x":920,"y":0.00225},{"k":13,"x":940,"y":0.0023},{"k":13,"x":960,"y":0.00245},{"k":13,"x":970,"y":0.0026},{"k":13,"x":980,"y":0.0028},{"k":13,"x":990,"y":0.003},{"k":13,"x":1000,"y":0.0031},{"k":13,"x":1010,"y":0.00305},{"k":13,"x":1020,"y":0.00275},{"k":13,"x":1030,"y":0.00235},{"k":13,"x":1040,"y":0.00205},{"k":13,"x":1050,"y":0.00185},{"k":13,"x":1060,"y":0.00165},{"k":13,"x":1080,"y":0.0014},{"k":13,"x":1100,"y":0.0012},{"k":13,"x":1125,"y":0.001},{"k":13,"x":1150,"y":0.0009},{"k":13,"x":1175,"y":0.0008},{"k":13,"x":1200,"y":0.0007},
{"k":14,"x":801,"y":0.0021},{"k":14,"x":810,"y":0.00225},{"k":14,"x":820,"y":0.0023},{"k":14,"x":830,"y":0.0023},{"k":14,"x":840,"y":0.00225},{"k":14,"x":850,"y":0.00225},{"k":14,"x":860,"y":0.0022},{"k":14,"x":880,"y":0.0022},{"k":14,"x":900,"y":0.0022},{"k":14,"x":920,"y":0.0022},{"k":14,"x":940,"y":0.0023},{"k":14,"x":960,"y":0.00245},{"k":14,"x":970,"y":0.0026},{"k":14,"x":980,"y":0.0028},{"k":14,"x":990,"y":0.003},{"k":14,"x":1000,"y":0.0031},{"k":14,"x":1010,"y":0.00305},{"k":14,"x":1020,"y":0.00275},{"k":14,"x":1030,"y":0.0023},{"k":14,"x":1040,"y":0.002},{"k":14,"x":1050,"y":0.0018},{"k":14,"x":1060,"y":0.0016},{"k":14,"x":1080,"y":0.00135},{"k":14,"x":1100,"y":0.00115},{"k":14,"x":1125,"y":0.00095},{"k":14,"x":1150,"y":0.00085},{"k":14,"x":1175,"y":0.00072},{"k":14,"x":1200,"y":0.0006},
{"k":15,"x":801,"y":0.0022},{"k":15,"x":810,"y":0.0023},{"k":15,"x":820,"y":0.00235},{"k":15,"x":830,"y":0.00225},{"k":15,"x":840,"y":0.0023},{"k":15,"x":850,"y":0.00225},{"k":15,"x":860,"y":0.0022},{"k":15,"x":880,"y":0.0022},{"k":15,"x":900,"y":0.0022},{"k":15,"x":920,"y":0.00225},{"k":15,"x":940,"y":0.0023},{"k":15,"x":960,"y":0.00245},{"k":15,"x":970,"y":0.0026},{"k":15,"x":980,"y":0.0028},{"k":15,"x":990,"y":0.00305},{"k":15,"x":1000,"y":0.00315},{"k":15,"x":1010,"y":0.0031},{"k":15,"x":1020,"y":0.0028},{"k":15,"x":1030,"y":0.00235},{"k":15,"x":1040,"y":0.00205},{"k":15,"x":1050,"y":0.0018},{"k":15,"x":1060,"y":0.0016},{"k":15,"x":1080,"y":0.00135},{"k":15,"x":1100,"y":0.00115},{"k":15,"x":1125,"y":0.00095},{"k":15,"x":1150,"y":0.00085},{"k":15,"x":1175,"y":0.00072},{"k":15,"x":1200,"y":0.0006},
{"k":16,"x":801,"y":0.0023},{"k":16,"x":810,"y":0.0022},{"k":16,"x":820,"y":0.0024},{"k":16,"x":830,"y":0.0023},{"k":16,"x":840,"y":0.0023},{"k":16,"x":850,"y":0.00225},{"k":16,"x":860,"y":0.00225},{"k":16,"x":880,"y":0.0022},{"k":16,"x":900,"y":0.0022},{"k":16,"x":920,"y":0.00225},{"k":16,"x":940,"y":0.0023},{"k":16,"x":960,"y":0.00245},{"k":16,"x":970,"y":0.0026},{"k":16,"x":980,"y":0.00285},{"k":16,"x":990,"y":0.00305},{"k":16,"x":1000,"y":0.0032},{"k":16,"x":1010,"y":0.00315},{"k":16,"x":1020,"y":0.00285},{"k":16,"x":1030,"y":0.0024},{"k":16,"x":1040,"y":0.00205},{"k":16,"x":1050,"y":0.0018},{"k":16,"x":1060,"y":0.0016},{"k":16,"x":1080,"y":0.00135},{"k":16,"x":1100,"y":0.00112},{"k":16,"x":1125,"y":0.00095},{"k":16,"x":1150,"y":0.00083},{"k":16,"x":1175,"y":0.0007},{"k":16,"x":1200,"y":0.00058},
{"k":17,"x":801,"y":0.0022},{"k":17,"x":810,"y":0.0023},{"k":17,"x":820,"y":0.00235},{"k":17,"x":830,"y":0.0023},{"k":17,"x":840,"y":0.0023},{"k":17,"x":850,"y":0.00225},{"k":17,"x":860,"y":0.0022},{"k":17,"x":880,"y":0.0022},{"k":17,"x":900,"y":0.0022},{"k":17,"x":920,"y":0.00225},{"k":17,"x":940,"y":0.0023},{"k":17,"x":960,"y":0.00245},{"k":17,"x":970,"y":0.0026},{"k":17,"x":980,"y":0.00285},{"k":17,"x":990,"y":0.0031},{"k":17,"x":1000,"y":0.00325},{"k":17,"x":1010,"y":0.0032},{"k":17,"x":1020,"y":0.0029},{"k":17,"x":1030,"y":0.00245},{"k":17,"x":1040,"y":0.00205},{"k":17,"x":1050,"y":0.0018},{"k":17,"x":1060,"y":0.0016},{"k":17,"x":1080,"y":0.00135},{"k":17,"x":1100,"y":0.00112},{"k":17,"x":1125,"y":0.00095},{"k":17,"x":1150,"y":0.00083},{"k":17,"x":1175,"y":0.0007},{"k":17,"x":1200,"y":0.00058}
]
},
"spacing": 99,
"bounds": "flush",
"resolve": {"legend": {"color": "independent"}},
"vconcat": [
{
"width": 457, "height": 321,
"encoding": {
"x": {"field": "x", "type": "quantitative", "scale": {"domain": [450, 800], "nice": false, "zero": false},
 "axis": {"values": [450,460,470,480,490,500,510,520,530,540,550,560,570,580,590,600,610,620,630,640,650,660,670,680,690,700,710,720,730,740,750,760,770,780,790,800], "format": "d", "labelExpr": "datum.value % 50 === 0 ? datum.label : ''", "labelPadding": 15, "title": "Wavelength / nm", "titleY": 46, "titleBaseline": "middle"}},
"y": {"field": "y", "type": "quantitative", "scale": {"domain": [-0.001, 0.013], "nice": false, "zero": false},
 "axis": {"values": [-0.001,-0.0005,0,0.0005,0.001,0.0015,0.002,0.0025,0.003,0.0035,0.004,0.0045,0.005,0.0055,0.006,0.0065,0.007,0.0075,0.008,0.0085,0.009,0.0095,0.01,0.0105,0.011,0.0115,0.012,0.0125,0.013], "format": "~g", "labelExpr": "indexof([0,0.002,0.004,0.006,0.008,0.01,0.012], datum.value) >= 0 ? datum.label : ''", "labelPadding": 23, "title": ["ΔOD", "/ a.u."], "titleAngle": 0, "titleAlign": "left", "titleBaseline": "top", "titleX": -109, "titleY": 148, "titleLineHeight": 21}}
},
"layer": [
{"data": {"name": "top"}, "mark": {"type": "line", "strokeWidth": 7, "strokeCap": "round", "strokeJoin": "round"},
 "encoding": {"color": {"field": "k", "type": "nominal", "scale": {"domain": [1,2,3,4,5,6,7,8,9,10,11,12,13,14,15,16,17], "range": ["#000000","#5e5e5e","#6b4f48","#e0206a","#ec1c8e","#7c4aa3","#5b4a9f","#2f4597","#4a6cb3","#1fa0da","#27bdf0","#7ec8e3","#a6d6e6","#ef6b26","#f58d2c","#f7cf28","#d3e04c"]}}}},
{"data": {"name": "top"}, "mark": {"type": "point", "filled": true, "size": 45, "opacity": 1},
 "encoding": {"color": {"field": "k", "type": "nominal", "scale": {"domain": [1,2,3,4,5,6,7,8,9,10,11,12,13,14,15,16,17], "range": ["#000000","#5e5e5e","#6b4f48","#e0206a","#ec1c8e","#7c4aa3","#5b4a9f","#2f4597","#4a6cb3","#1fa0da","#27bdf0","#7ec8e3","#a6d6e6","#ef6b26","#f58d2c","#f7cf28","#d3e04c"]},
  "legend": {"orient": "none", "direction": "vertical", "legendX": 510, "legendY": -62, "title": null, "labelExpr": "''", "symbolType": "circle", "symbolSize": 50, "rowPadding": 5, "padding": 0, "labelFontSize": 10,
   "encode": {"symbols": {"update": {"fill": {"scale": "color", "field": "value"}, "stroke": {"value": "transparent"}, "strokeWidth": {"value": 0}, "opacity": {"value": 1}}}}}}}},
{"data": {"values": [{"x": 450, "x2": 800, "y": 0}]}, "mark": {"type": "rule", "color": "#000", "strokeWidth": 2}, "encoding": {"x2": {"field": "x2"}}},
{"data": {"values": [{"x": 825, "y": 0.01485, "y2": 0.0035}]}, "mark": {"type": "rule", "color": "#000", "strokeWidth": 2.5}, "encoding": {"y2": {"field": "y2"}}},
{"data": {"values": [{"x": 825, "y": 0.0035}]}, "mark": {"type": "point", "shape": "M-0.55,-1L0.55,-1L0,1Z", "size": 484, "filled": true, "fill": "#fff", "stroke": "#000", "strokeWidth": 1.8, "opacity": 1}, "encoding": {}},
{"data": {"values": [{"x": 694, "y": 0.00633, "y2": 0.0084}]}, "mark": {"type": "rule", "color": "#aaaaaa", "strokeWidth": 2}, "encoding": {"y2": {"field": "y2"}}},
{"data": {"values": [{"x": 694, "y": 0.0086}]}, "mark": {"type": "point", "shape": "M0,-1L0.7,1L0,0.55L-0.7,1Z", "size": 225, "filled": true, "fill": "#000", "strokeWidth": 0, "opacity": 1}, "encoding": {}}
]
},
{
"width": 457, "height": 350,
"encoding": {
"x": {"field": "x", "type": "quantitative", "scale": {"domain": [800, 1200], "nice": false, "zero": false},
 "axis": {"values": [800,820,840,860,880,900,920,940,960,980,1000,1020,1040,1060,1080,1100,1120,1140,1160,1180,1200], "format": "d", "labelExpr": "datum.value % 100 === 0 ? datum.label : ''", "labelPadding": 15, "title": "Wavelength / nm", "titleY": 46, "titleBaseline": "middle"}},
"y": {"field": "y", "type": "quantitative", "scale": {"domain": [-0.001, 0.0045], "nice": false, "zero": false},
 "axis": {"values": [-0.001,-0.0008,-0.0006,-0.0004,-0.0002,0,0.0002,0.0004,0.0006,0.0008,0.001,0.0012,0.0014,0.0016,0.0018,0.002,0.0022,0.0024,0.0026,0.0028,0.003,0.0032,0.0034,0.0036,0.0038,0.004,0.0042,0.0044], "format": "~g", "labelExpr": "indexof([-0.001,0,0.001,0.002,0.003,0.004], datum.value) >= 0 ? replace(datum.label, '−', '-') : ''", "labelPadding": 23, "title": ["ΔOD", "/ a.u."], "titleAngle": 0, "titleAlign": "left", "titleBaseline": "top", "titleX": -109, "titleY": 178, "titleLineHeight": 21}}
},
"layer": [
{"data": {"name": "bot"}, "mark": {"type": "line", "strokeWidth": 7, "strokeCap": "round", "strokeJoin": "round"},
 "encoding": {"color": {"field": "k", "type": "nominal", "scale": {"domain": [1,2,3,4,5,6,7,8,9,10,11,12,13,14,15,16,17], "range": ["#000000","#5e5e5e","#6b4f48","#e0206a","#ec1c8e","#7c4aa3","#5b4a9f","#2f4597","#4a6cb3","#1fa0da","#27bdf0","#7ec8e3","#a6d6e6","#ef6b26","#f58d2c","#f7cf28","#d3e04c"]}}}},
{"data": {"name": "bot"}, "mark": {"type": "point", "filled": true, "size": 45, "opacity": 1},
 "encoding": {"color": {"field": "k", "type": "nominal", "scale": {"domain": [1,2,3,4,5,6,7,8,9,10,11,12,13,14,15,16,17], "range": ["#000000","#5e5e5e","#6b4f48","#e0206a","#ec1c8e","#7c4aa3","#5b4a9f","#2f4597","#4a6cb3","#1fa0da","#27bdf0","#7ec8e3","#a6d6e6","#ef6b26","#f58d2c","#f7cf28","#d3e04c"]},
  "legend": {"orient": "none", "direction": "vertical", "legendX": 510, "legendY": -36, "title": null, "labelExpr": "''", "symbolType": "circle", "symbolSize": 50, "rowPadding": 5, "padding": 0, "labelFontSize": 10,
   "encode": {"symbols": {"update": {"fill": {"scale": "color", "field": "value"}, "stroke": {"value": "transparent"}, "strokeWidth": {"value": 0}, "opacity": {"value": 1}}}}}}}},
{"data": {"values": [{"x": 800, "x2": 1200, "y": 0}]}, "mark": {"type": "rule", "color": "#000", "strokeWidth": 2}, "encoding": {"x2": {"field": "x2"}}},
{"data": {"values": [{"x": 1229, "y": 0.00469, "y2": 0.00072}]}, "mark": {"type": "rule", "color": "#000", "strokeWidth": 2.5}, "encoding": {"y2": {"field": "y2"}}},
{"data": {"values": [{"x": 1229, "y": 0.00072}]}, "mark": {"type": "point", "shape": "M-0.55,-1L0.55,-1L0,1Z", "size": 484, "filled": true, "fill": "#fff", "stroke": "#000", "strokeWidth": 1.8, "opacity": 1}, "encoding": {}},
{"data": {"values": [{"x": 1004, "y": 0.0038, "y2": 0.0045}]}, "mark": {"type": "rule", "color": "#777777", "strokeWidth": 1.5}, "encoding": {"y2": {"field": "y2"}}},
{"data": {"values": [{"x": 1004, "y": 0.00458}]}, "mark": {"type": "point", "shape": "M0,-1L0.7,1L0,0.55L-0.7,1Z", "size": 225, "filled": true, "fill": "#000", "strokeWidth": 0, "opacity": 1}, "encoding": {}}
]
}
]
}
